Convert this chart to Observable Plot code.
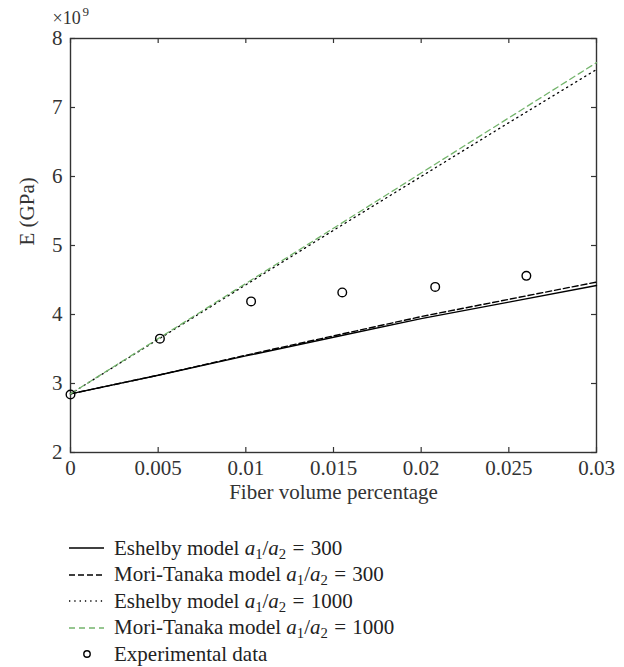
<!DOCTYPE html>
<html>
<head>
<meta charset="utf-8">
<script src="https://cdn.jsdelivr.net/npm/d3@7"></script>
<script src="https://cdn.jsdelivr.net/npm/@observablehq/plot@0.6"></script>
<style>
  html, body { margin: 0; padding: 0; background: white; }
  #chart { position: relative; width: 624px; }
  #legend { font-family: "Liberation Serif", serif; font-size: 21px; color: #222; margin-top: 20px; }
  .row { display: flex; align-items: center; height: 26.5px; }
  .row svg { margin-left: 69px; margin-right: 10px; }
  .row i { font-style: italic; }
  .row sub { font-size: 0.7em; vertical-align: -0.3em; line-height: 0; }
  .row .eq { margin: 0 0.3em; }
</style>
</head>
<body>
<div id="chart"></div>
<div id="legend"></div>
<script>
// ---- data (E in units of 10^9 Pa) ----
const fiberVol = [0, 0.005, 0.01, 0.015, 0.02, 0.025, 0.03];
const eshelby300 = [2.85, 3.12, 3.40, 3.67, 3.94, 4.18, 4.42];
const moriTanaka300 = [2.85, 3.12, 3.41, 3.69, 3.97, 4.22, 4.47];
const eshelby1000 = [2.85, 3.64, 4.43, 5.22, 6.00, 6.78, 7.55];
const moriTanaka1000 = [2.85, 3.65, 4.45, 5.25, 6.05, 6.85, 7.65];
const expVol = [0, 0.0051, 0.0103, 0.0155, 0.0208, 0.026];
const expE = [2.84, 3.65, 4.19, 4.32, 4.40, 4.56];
const xTicks = [0, 0.005, 0.01, 0.015, 0.02, 0.025, 0.03];
const xTickLabels = ["0", "0.005", "0.01", "0.015", "0.02", "0.025", "0.03"];
const yTicks = [2, 3, 4, 5, 6, 7, 8];
const yTickLabels = ["2", "3", "4", "5", "6", "7", "8"];
const seriesNames = [
  "Eshelby model a1/a2 = 300",
  "Mori-Tanaka model a1/a2 = 300",
  "Eshelby model a1/a2 = 1000",
  "Mori-Tanaka model a1/a2 = 1000",
  "Experimental data"
];

const W = 624, H = 515, mL = 70, mR = 28, mT = 38, mB = 63;
const innerW = W - mL - mR, innerH = H - mT - mB;

const toRows = (ys) => fiberVol.map((x, i) => ({x, y: ys[i]}));
const expRows = expVol.map((x, i) => ({x, y: expE[i]}));

const ink = "#333";
const green = "#74b46c";
const FS = 21;

const chart = Plot.plot({
  width: W, height: H,
  marginLeft: mL, marginRight: mR, marginTop: mT, marginBottom: mB,
  x: {domain: [0, 0.03]},
  y: {domain: [2, 8]},
  style: {fontFamily: "Liberation Serif, serif", fontSize: FS + "px", color: ink, background: "white"},
  marks: [
    Plot.frame({stroke: ink, strokeWidth: 1.4}),
    // inward ticks on all four sides
    Plot.tickX(xTicks, {x: d => d, insetTop: innerH - 5, stroke: ink, strokeWidth: 1.2}),
    Plot.tickX(xTicks, {x: d => d, insetBottom: innerH - 5, stroke: ink, strokeWidth: 1.2}),
    Plot.tickY(yTicks, {y: d => d, insetRight: innerW - 5, stroke: ink, strokeWidth: 1.2}),
    Plot.tickY(yTicks, {y: d => d, insetLeft: innerW - 5, stroke: ink, strokeWidth: 1.2}),
    Plot.axisX(xTicks, {tickSize: 0, tickPadding: 8, fontSize: FS, tickFormat: d => xTickLabels[xTicks.indexOf(d)], label: null}),
    Plot.axisY(yTicks, {tickSize: 0, tickPadding: 8, fontSize: FS, tickFormat: d => yTickLabels[yTicks.indexOf(d)], label: null}),
    // series
    Plot.line(toRows(eshelby300), {x: "x", y: "y", stroke: "black", strokeWidth: 1.4}),
    Plot.line(toRows(moriTanaka300), {x: "x", y: "y", stroke: "black", strokeWidth: 1.4, strokeDasharray: "6,3"}),
    Plot.line(toRows(eshelby1000), {x: "x", y: "y", stroke: "black", strokeWidth: 1.3, strokeDasharray: "1.3,4"}),
    Plot.line(toRows(moriTanaka1000), {x: "x", y: "y", stroke: green, strokeWidth: 1.3, strokeDasharray: "6,4"}),
    Plot.dot(expRows, {x: "x", y: "y", r: 4.3, stroke: "black", strokeWidth: 1.4, fill: "none"}),
    // axis titles and exponent
    Plot.text(["Fiber volume percentage"], {frameAnchor: "bottom", dy: 46, fill: ink, fontSize: FS}),
    Plot.text(["E (GPa)"], {frameAnchor: "left", dx: -43, rotate: -90, fill: ink, fontSize: FS}),
    Plot.text(["\u00d710"], {frameAnchor: "top-left", dx: -18, dy: -27, textAnchor: "start", fill: ink, fontSize: 18}),
    Plot.text(["9"], {frameAnchor: "top-left", dx: 12, dy: -32, textAnchor: "start", fill: ink, fontSize: 13})
  ]
});
document.getElementById("chart").appendChild(chart);

// ---- legend ----
const samples = [
  {stroke: "black", dash: null},
  {stroke: "black", dash: "6,3"},
  {stroke: "black", dash: "1.3,4"},
  {stroke: green, dash: "6,4"},
  {dot: true}
];
const legend = document.getElementById("legend");
seriesNames.forEach((name, i) => {
  const s = samples[i];
  const row = document.createElement("div");
  row.className = "row";
  let sw;
  if (s.dot) {
    sw = `<svg width="35" height="12"><circle cx="18" cy="6" r="3.2" fill="none" stroke="black" stroke-width="1.4"/></svg>`;
  } else {
    sw = `<svg width="35" height="12"><line x1="0" y1="6" x2="35" y2="6" stroke="${s.stroke}" stroke-width="1.4" ${s.dash ? `stroke-dasharray="${s.dash}"` : ""}/></svg>`;
  }
  const m = name.match(/^(.*) a1\/a2 = (\d+)$/);
  const label = m ? `${m[1]} <i>a</i><sub>1</sub>/<i>a</i><sub>2</sub><span class="eq">=</span>${m[2]}` : name;
  row.innerHTML = sw + `<span>${label}</span>`;
  legend.appendChild(row);
});
</script>
</body>
</html>
